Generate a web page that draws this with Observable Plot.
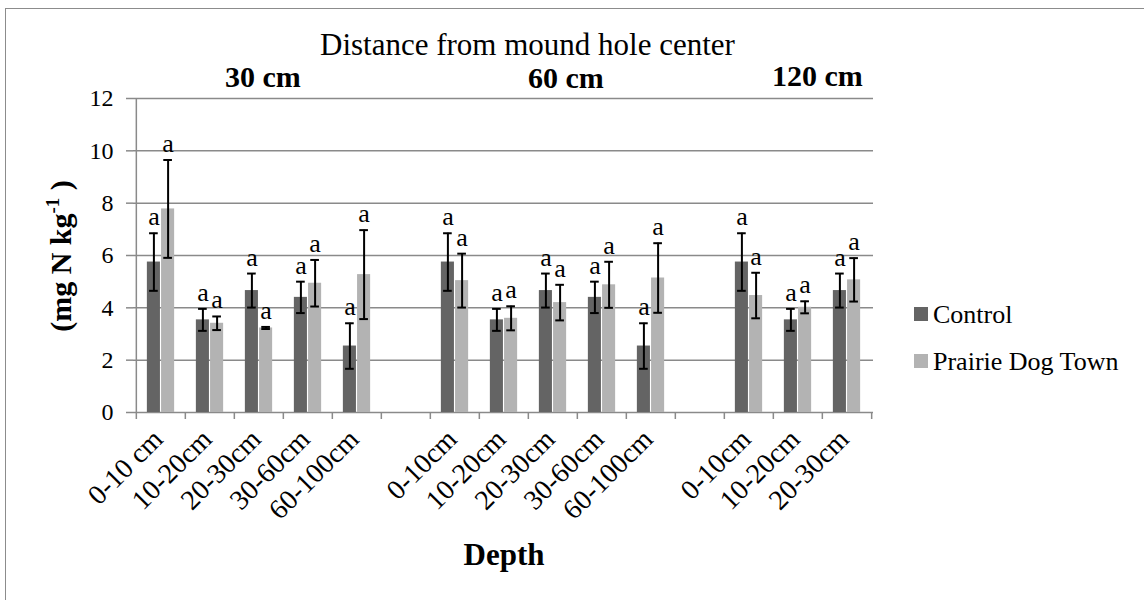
<!DOCTYPE html>
<html>
<head>
<meta charset="utf-8">
<script src="https://cdn.jsdelivr.net/npm/d3@7"></script>
<script src="https://cdn.jsdelivr.net/npm/@observablehq/plot@0.6"></script>
<style>
  body { margin: 0; background: #fff; }
  #chart { position: relative; width: 1144px; height: 600px; overflow: hidden; background: #fff;
           font-family: "Liberation Serif", serif; color: #000; }
  #chart .border { position: absolute; left: 5px; top: 8px; width: 1400px; height: 900px;
                   border: 1.5px solid #8c8c8c; box-sizing: border-box; }
  #chart svg { position: absolute; left: 0; top: 0; }
  #chart svg text, #chart svg tspan { font-family: "Liberation Serif", serif; }
</style>
</head>
<body>
<div id="chart"><div class="border"></div></div>
<script>
// Distance groups and the soil depths sampled in each
const distances = ["30 cm", "60 cm", "120 cm"];
const depths30 = ["0-10 cm", "10-20cm", "20-30cm", "30-60cm", "60-100cm"];
const depths60 = ["0-10cm", "10-20cm", "20-30cm", "30-60cm", "60-100cm"];
const depths120 = ["0-10cm", "10-20cm", "20-30cm"];

// Mean N (mg N kg-1) with error bar half-widths, in the order of the depths above
const controlMean = [5.75, 3.54, 4.66, 4.40, 2.54, 5.75, 3.54, 4.66, 4.40, 2.54, 5.75, 3.54, 4.66];
const controlErr  = [1.10, 0.42, 0.65, 0.60, 0.87, 1.10, 0.42, 0.65, 0.60, 0.87, 1.10, 0.42, 0.65];
const townMean    = [7.78, 3.41, 3.23, 4.94, 5.27, 5.04, 3.60, 4.20, 4.88, 5.14, 4.47, 4.02, 5.07];
const townErr     = [1.87, 0.26, 0.04, 0.89, 1.70, 1.03, 0.46, 0.68, 0.88, 1.33, 0.87, 0.23, 0.83];
const controlLetters = ["a", "a", "a", "a", "a", "a", "a", "a", "a", "a", "a", "a", "a"];
const townLetters    = ["a", "a", "a", "a", "a", "a", "a", "a", "a", "a", "a", "a", "a"];

const seriesNames = ["Control", "Prairie Dog Town"];
const yTicks = [0, 2, 4, 6, 8, 10, 12];

// Build the category slots: each distance group, with an empty slot between groups
const depthLists = [depths30, depths60, depths120];
const slots = [];
const labelOf = new Map();
const rows = [];
let k = 0;
depthLists.forEach((list, g) => {
  if (g > 0) { const gap = `gap-${g}`; slots.push(gap); labelOf.set(gap, ""); }
  list.forEach(depth => {
    const key = `${distances[g]}|${depth}`;
    slots.push(key);
    labelOf.set(key, depth);
    rows.push({
      key,
      control: controlMean[k], controlErr: controlErr[k], controlLetter: controlLetters[k],
      town: townMean[k], townErr: townErr[k], townLetter: townLetters[k]
    });
    k++;
  });
});

// Layout
const W = 1144, H = 600;
const mL = 133, mR = W - 873, mT = 98, mB = H - 412;
const bw = (W - mL - mR) / slots.length;
const barW = 13.4, gap = 0.8, capHalf = 4.5;
const cOff = -(gap / 2 + barW / 2), tOff = gap / 2 + barW / 2;
const grey = "#8a8a8a";
const darkFill = "#646464", lightFill = "#b3b3b3";
const serif = "Liberation Serif";

const plot = Plot.plot({
  width: W, height: H,
  marginLeft: mL, marginRight: mR, marginTop: mT, marginBottom: mB,
  style: { fontFamily: serif, fontSize: "23px", color: "#000", background: "transparent", overflow: "visible" },
  x: { type: "band", domain: slots, padding: 0, axis: null },
  y: { domain: [0, 12], axis: null },
  marks: [
    Plot.gridY({ ticks: yTicks, stroke: grey, strokeOpacity: 1, strokeWidth: 1.5 }),
    Plot.axisY({ ticks: yTicks, tickSize: 7, tickPadding: 13, stroke: grey, strokeWidth: 1.5, fontFamily: serif, fontSize: 24, label: null }),
    Plot.ruleX([slots[0]], { dx: -bw / 2, stroke: grey, strokeWidth: 1.5 }),
    // Tick marks sit on the slot boundaries
    Plot.axisX({ ticks: slots, tickSize: 7, dx: -bw / 2, tickFormat: () => "", stroke: grey, strokeWidth: 1.5, label: null }),
    Plot.axisX({ ticks: [slots[slots.length - 1]], tickSize: 7, dx: bw / 2, tickFormat: () => "", stroke: grey, strokeWidth: 1.5, label: null }),
    Plot.axisX({ ticks: slots, tickSize: 0, tickRotate: -45, tickPadding: 22, dx: -3, tickFormat: d => labelOf.get(d), fontFamily: serif, fontSize: 28, label: null }),
    // Bars
    Plot.barY(rows, { x: "key", y: "control", fill: darkFill,
      insetLeft: bw / 2 + cOff - barW / 2, insetRight: bw / 2 - cOff - barW / 2 }),
    Plot.barY(rows, { x: "key", y: "town", fill: lightFill,
      insetLeft: bw / 2 + tOff - barW / 2, insetRight: bw / 2 - tOff - barW / 2 }),
    // Error bars
    Plot.ruleX(rows, { x: "key", y1: d => d.control - d.controlErr, y2: d => d.control + d.controlErr, dx: cOff, stroke: "#000", strokeWidth: 2 }),
    Plot.tickY(rows, { x: "key", y: d => d.control - d.controlErr, insetLeft: bw / 2 + cOff - capHalf, insetRight: bw / 2 - cOff - capHalf, stroke: "#000", strokeWidth: 2 }),
    Plot.tickY(rows, { x: "key", y: d => d.control + d.controlErr, insetLeft: bw / 2 + cOff - capHalf, insetRight: bw / 2 - cOff - capHalf, stroke: "#000", strokeWidth: 2 }),
    Plot.ruleX(rows, { x: "key", y1: d => d.town - d.townErr, y2: d => d.town + d.townErr, dx: tOff, stroke: "#000", strokeWidth: 2 }),
    Plot.tickY(rows, { x: "key", y: d => d.town - d.townErr, insetLeft: bw / 2 + tOff - capHalf, insetRight: bw / 2 - tOff - capHalf, stroke: "#000", strokeWidth: 2 }),
    Plot.tickY(rows, { x: "key", y: d => d.town + d.townErr, insetLeft: bw / 2 + tOff - capHalf, insetRight: bw / 2 - tOff - capHalf, stroke: "#000", strokeWidth: 2 }),
    // Significance letters
    Plot.text(rows, { x: "key", y: d => d.control + d.controlErr, text: "controlLetter", dx: cOff, dy: -8, lineAnchor: "bottom", fontFamily: serif, fontSize: 26 }),
    Plot.text(rows, { x: "key", y: d => d.town + d.townErr, text: "townLetter", dx: tOff, dy: -8, lineAnchor: "bottom", fontFamily: serif, fontSize: 26 })
  ]
});

const chart = document.getElementById("chart");
chart.appendChild(plot);

// Titles, group headings, axis titles and legend
const ann = d3.select(chart).append("svg")
  .attr("width", W).attr("height", H)
  .attr("font-family", serif);

ann.append("text").attr("x", 320).attr("y", 55).attr("font-size", 31)
  .text("Distance from mound hole center");

const headX = [225, 528, 772], headY = [87, 88, 86];
distances.forEach((d, i) => {
  ann.append("text").attr("x", headX[i]).attr("y", headY[i])
    .attr("font-size", 30).attr("font-weight", "bold").text(d);
});

ann.append("text").attr("x", 504).attr("y", 565).attr("text-anchor", "middle")
  .attr("font-size", 31).attr("font-weight", "bold").text("Depth");

const yt = ann.append("text").attr("transform", "translate(71,256) rotate(-90)")
  .attr("text-anchor", "middle").attr("font-size", 30).attr("font-weight", "bold");
yt.append("tspan").text("(mg N kg");
yt.append("tspan").attr("font-size", 19).attr("dy", -12).text("-1");
yt.append("tspan").attr("dy", 12).text(" )");

const legend = ann.append("g");
[darkFill, lightFill].forEach((c, i) => {
  legend.append("rect").attr("x", 914).attr("y", 307 + i * 47).attr("width", 14).attr("height", 14).attr("fill", c);
  legend.append("text").attr("x", 933).attr("y", 323 + i * 47).attr("font-size", 26).text(seriesNames[i]);
});
</script>
</body>
</html>
